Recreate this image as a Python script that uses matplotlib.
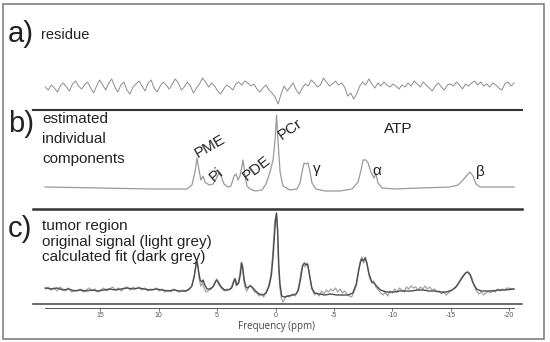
import numpy as np
import matplotlib.pyplot as plt
from matplotlib.patches import Rectangle

plt.rcParams['font.family'] = ['Liberation Sans', 'DejaVu Sans']

W, H = 550, 342

# a) residue, evenly sampled over the spectral width
residue = [1, -2, 3, 0, -4, 2, 5, 1, -3, 4, 7, 2, -1, 3, 6, 0, -5, 2, 8, 3,
           -2, 5, 9, 1, -4, 3, 6, -2, -6, 1, 4, 7, 2, -3, 5, 8, 0, -4, 2, 6,
           3, -1, 4, 9, 5, -2, 1, 6, 2, -5, 0, 4, 10, 6, 1, 5, 2, -3, -6, -1,
           3, 1, -2, 4, 6, 3, 7, 5, 2, 4, -1, -4, 0, 3, -2, -5, -9, -16, -6, 2,
           -3, 1, 5, -2, -6, 0, 4, 2, 8, 5, 1, 3, 10, 6, 2, 4, 7, 3, 5, 1,
           -8, -5, -11, -6, 2, 6, 3, 9, 4, 0, 5, 2, 6, 3, 1, 4, 2, -1, 3, 1,
           5, 2, 7, 4, 1, 6, 3, 0, -3, 2, 5, 1, -2, 3, 4, 2, 6, 3, -1, 4,
           2, 5, 7, 3, 6, 2, 4, 1, 5, 3, 0, -2, 4, 6, 2, 5]
ppm_start, ppm_end = 19.7, -20.4

# b) estimated individual components (ppm, intensity)
components = [
    (19.72, 1), (15.02, 0), (10.74, -1), (7.57, -1), (7.15, 3), (6.89, 16),
    (6.72, 30), (6.55, 18), (6.38, 8), (6.2, 12), (6.03, 6), (5.69, 3),
    (5.35, 4), (5.09, 9), (4.83, 15), (4.66, 12), (4.41, 4), (4.06, 1),
    (3.81, 2), (3.55, 12), (3.38, 14), (3.21, 8), (3.04, 12), (2.87, 22),
    (2.78, 28), (2.61, 12), (2.44, 2), (2.18, -1), (1.75, -3), (1.16, -2),
    (0.81, 4), (0.47, 16), (0.21, 28), (0.04, 48), (-0.09, 73), (-0.21, 48),
    (-0.39, 16), (-0.64, 2), (-1.24, -2), (-1.84, -1), (-2.1, 5), (-2.27, 16),
    (-2.44, 25), (-2.61, 24), (-2.78, 25), (-2.95, 16), (-3.12, 5), (-3.47, -1),
    (-4.24, -3), (-5.52, -3), (-6.55, -1), (-7.06, 6), (-7.32, 18), (-7.49, 28),
    (-7.75, 28), (-7.92, 25), (-8.17, 16), (-8.43, 10), (-8.6, 14), (-8.77, 5),
    (-9.11, 0), (-10.23, -1), (-12.37, 0), (-14.93, 1), (-15.62, 3), (-16.04, 8),
    (-16.47, 14), (-16.64, 16), (-16.9, 12), (-17.16, 4), (-17.5, 1),
    (-18.78, 1), (-20.41, 1)]

# c) calculated fit (dark grey)
fit = [
    (19.7, 2), (19.2, 1), (18.7, 2), (18.2, 0), (17.7, 1), (17.2, -1), (16.7, 0),
    (16.2, -1), (15.7, 0), (15.2, -1), (14.7, 0), (14.2, 1), (13.7, 0), (13.2, 1),
    (12.7, 2), (12.2, 1), (11.7, 2), (11.2, 1), (10.7, 0), (10.2, 1), (9.7, 0),
    (9.2, -1), (8.7, 0), (8.2, -1), (7.8, -1), (7.45, 0), (7.15, 4), (6.95, 14),
    (6.8, 26), (6.7, 28), (6.6, 20), (6.45, 10), (6.3, 8), (6.2, 10), (6.05, 5),
    (5.85, 1), (5.55, 1), (5.3, 4), (5.1, 9), (5.0, 10), (4.85, 7), (4.65, 3),
    (4.35, 0), (4.05, 0), (3.75, 2), (3.55, 9), (3.45, 11), (3.3, 5), (3.15, 7),
    (3.0, 16), (2.9, 27), (2.8, 22), (2.68, 10), (2.52, 3), (2.38, 2), (2.2, 4),
    (2.0, 3), (1.7, -1), (1.4, -4), (1.1, -5), (0.8, -3), (0.55, 4), (0.35, 15),
    (0.2, 35), (0.0, 70), (-0.09, 77), (-0.18, 60), (-0.28, 25), (-0.38, 6),
    (-0.53, -6), (-0.73, -7), (-1.07, -6), (-1.47, -5), (-1.76, -4), (-1.96, 0),
    (-2.16, 12), (-2.31, 24), (-2.46, 27), (-2.6, 25), (-2.75, 26), (-2.9, 16),
    (-3.1, 2), (-3.35, -3), (-3.74, -4), (-4.24, -5), (-4.73, -4), (-5.23, -5),
    (-5.72, -5), (-6.21, -5), (-6.61, -3), (-6.91, 6), (-7.15, 22), (-7.35, 31),
    (-7.5, 29), (-7.65, 32), (-7.8, 28), (-8.0, 16), (-8.25, 8), (-8.44, 7),
    (-8.64, 4), (-8.98, 0), (-9.48, -2), (-10.17, -2), (-10.66, -1), (-11.16, -1),
    (-11.65, -1), (-12.15, 0), (-12.64, 0), (-13.14, -1), (-13.63, -1),
    (-14.13, -2), (-14.62, -2), (-15.12, 0), (-15.51, 4), (-15.9, 11),
    (-16.25, 17), (-16.45, 18), (-16.65, 15), (-16.9, 7), (-17.2, 1), (-17.6, -1),
    (-18.1, -1), (-18.6, -1), (-19.1, 0), (-19.6, 0), (-20.4, 1)]

# c) original signal (light grey)
original = [
    (19.7, 1), (19.45, 3), (19.2, 0), (18.95, 2), (18.7, -1), (18.45, 3), (18.2, 1),
    (17.95, -1), (17.7, 2), (17.45, -2), (17.2, 0), (16.95, -1), (16.7, 1),
    (16.45, -2), (16.2, 0), (15.95, 2), (15.7, -1), (15.45, 1), (15.2, -2),
    (14.95, 0), (14.7, 2), (14.45, -1), (14.2, 1), (13.95, 3), (13.7, 0),
    (13.45, 2), (13.2, -1), (12.95, 2), (12.7, 3), (12.45, 0), (12.2, 3),
    (11.95, 1), (11.7, 3), (11.45, 0), (11.2, 2), (10.95, -1), (10.7, 1),
    (10.45, 0), (10.2, 2), (9.95, -1), (9.7, 1), (9.45, -2), (9.2, 0), (8.95, -2),
    (8.7, 1), (8.45, -1), (8.2, -2), (7.95, 0), (7.7, -2), (7.45, 1),
    (7.2, 3), (6.99, 12), (6.84, 22), (6.74, 30), (6.64, 24), (6.54, 12), (6.4, 4),
    (6.25, 7), (6.1, 2), (5.95, -2), (5.75, -1), (5.55, 2), (5.36, 3), (5.16, 8),
    (5.04, 11), (4.91, 6), (4.76, 4), (4.57, 1), (4.37, -1), (4.17, 1), (3.97, 0),
    (3.77, 3), (3.63, 8), (3.5, 12), (3.38, 4), (3.23, 6), (3.08, 14), (2.93, 28),
    (2.83, 24), (2.71, 9), (2.59, 2), (2.44, -1), (2.29, 3), (2.14, 5), (1.99, 2),
    (1.8, -2), (1.6, -3), (1.4, -6), (1.2, -4), (1.01, -7), (0.81, -2), (0.61, 3),
    (0.41, 14), (0.26, 32), (0.07, 68), (-0.06, 76), (-0.16, 62), (-0.26, 22),
    (-0.38, 2), (-0.5, -8), (-0.63, -12), (-0.78, -9), (-0.97, -6), (-1.22, -7),
    (-1.47, -4), (-1.67, -6), (-1.86, -2), (-2.06, 8), (-2.21, 20), (-2.36, 25),
    (-2.51, 23), (-2.65, 27), (-2.8, 22), (-2.95, 12), (-3.15, 0), (-3.35, -5),
    (-3.54, -3), (-3.74, -6), (-3.94, -1), (-4.14, -4), (-4.34, 0), (-4.53, -2),
    (-4.73, 1), (-4.93, -1), (-5.13, 2), (-5.32, -2), (-5.52, 1), (-5.72, -3),
    (-5.92, -1), (-6.12, -4), (-6.31, -6), (-6.51, -7), (-6.71, -2), (-6.91, 4),
    (-7.1, 18), (-7.25, 29), (-7.4, 33), (-7.55, 27), (-7.7, 33), (-7.85, 24),
    (-8.04, 12), (-8.24, 7), (-8.39, 9), (-8.59, 3), (-8.79, 0),
    (-9.0, -3), (-9.2, -5), (-9.4, -2), (-9.6, -6), (-9.8, -1), (-10.0, -3),
    (-10.2, 1), (-10.4, -2), (-10.6, 2), (-10.8, 0), (-11.0, -2), (-11.2, 3),
    (-11.4, 1), (-11.6, 4), (-11.8, 2), (-12.0, 3), (-12.2, 0), (-12.4, 3),
    (-12.6, 1), (-12.8, 4), (-13.0, 1), (-13.2, 3), (-13.4, 0), (-13.6, 1),
    (-13.8, -2), (-14.0, -1), (-14.2, -4), (-14.4, -2), (-14.6, -5), (-14.8, -3),
    (-15.0, -1), (-15.2, 1), (-15.4, 2), (-15.6, 6), (-15.8, 10), (-16.0, 14),
    (-16.2, 16), (-16.4, 18), (-16.6, 17), (-16.8, 12), (-17.0, 4), (-17.2, -1),
    (-17.4, -4), (-17.6, -2), (-17.8, -5), (-18.0, -3), (-18.2, -1), (-18.4, -3),
    (-18.6, 0), (-18.8, -2), (-19.0, 1), (-19.2, -1), (-19.4, 1), (-19.6, 0),
    (-19.8, 2), (-20.4, 1)]

tick_ppm = [15, 10, 5, 0, -5, -10, -15, -20]
tick_labels = ['15', '10', '5', '0', '-5', '-10', '-15', '-20']


def px_axes(fig, left, top, right, bottom):
    return fig.add_axes([left / W, 1 - bottom / H, (right - left) / W, (bottom - top) / H])


def ftext(fig, x, y, s, **kw):
    kw.setdefault('color', '#222222')
    return fig.text(x / W, 1 - y / H, s, **kw)


fig = plt.figure(figsize=(5.5, 3.42), dpi=100)
fig.patch.set_facecolor('white')
fig.add_artist(Rectangle((3 / W, 3 / H), 541 / W, 335 / H, transform=fig.transFigure,
                         fill=False, edgecolor='#808080', linewidth=1.2))

xlim = (20.75, -21.09)

# panel a
ax_a = px_axes(fig, 33, 62, 522, 110)
ax_a.plot(np.linspace(ppm_start, ppm_end, len(residue)), residue, color='#8c8c8c', lw=0.7)
ax_a.set_xlim(xlim)
ax_a.set_ylim(-22, 26)
ax_a.axis('off')

# panel b
ax_b = px_axes(fig, 33, 110, 522, 209)
bx, by = zip(*components)
ax_b.plot(bx, by, color='#9a9a9a', lw=0.9)
ax_b.set_xlim(xlim)
ax_b.set_ylim(-21, 78)
for s in ['left', 'right', 'bottom']:
    ax_b.spines[s].set_visible(False)
ax_b.spines['top'].set_linewidth(1.5)
ax_b.spines['top'].set_color('#333333')
ax_b.set_xticks([])
ax_b.set_yticks([])
ax_b.patch.set_alpha(0)

for txt, x, y, rot in [('PME', 5.6, 42, 30), ('Pi', 5.09, 13, 40), ('PDE', 1.58, 20, 38),
                       ('PCr', -1.24, 59, 35)]:
    ax_b.text(x, y, txt, rotation=rot, fontsize=11, color='#222222',
              ha='center', va='center', rotation_mode='anchor')
ax_b.text(-10.48, 59, 'ATP', fontsize=11, color='#222222', ha='center', va='center')
for txt, x, y in [('γ', -3.55, 19), ('α', -8.69, 17), ('β', -17.5, 16)]:
    ax_b.text(x, y, txt, fontsize=11, color='#222222', ha='center', va='center')

# panel c
ax_c = px_axes(fig, 33, 209, 522, 304)
ox, oy = zip(*original)
fx, fy = zip(*fit)
ax_c.plot(ox, oy, color='#a3a3a3', lw=0.9)
ax_c.plot(fx, fy, color='#4d4d4d', lw=1.0)
ax_c.set_xlim(xlim)
ax_c.set_ylim(-14, 81)
for s in ['left', 'right']:
    ax_c.spines[s].set_visible(False)
ax_c.spines['top'].set_linewidth(1.8)
ax_c.spines['top'].set_color('#333333')
ax_c.plot([0, 1], [0, 0], transform=ax_c.transAxes, color='#444444', lw=1.1, clip_on=False)
ax_c.spines['bottom'].set_position(('outward', 3))
ax_c.spines['bottom'].set_bounds(19.72, -20.41)
ax_c.spines['bottom'].set_linewidth(0.7)
ax_c.spines['bottom'].set_color('#555555')
ax_c.set_yticks([])
ax_c.set_xticks(tick_ppm)
ax_c.set_xticklabels(tick_labels)
ax_c.tick_params(axis='x', direction='out', length=2, width=0.6, pad=1,
                 labelsize=5, colors='#555555')
ax_c.patch.set_alpha(0)

ftext(fig, 276, 326, 'Frequency (ppm)', fontsize=7, ha='center', va='center',
      color='#444444', family=['Open Sans', 'DejaVu Sans'])

# panel labels
ftext(fig, 8, 34, 'a)', fontsize=21, va='center')
ftext(fig, 41, 35, 'residue', fontsize=10.5, va='center')
ftext(fig, 8, 124, 'b)', fontsize=21, va='center')
ftext(fig, 42, 119, 'estimated', fontsize=11, va='center')
ftext(fig, 42, 139, 'individual', fontsize=11, va='center')
ftext(fig, 42, 159, 'components', fontsize=11, va='center')
ftext(fig, 8, 229, 'c)', fontsize=21, va='center')
ftext(fig, 42, 226, 'tumor region', fontsize=11, va='center')
ftext(fig, 42, 242, 'original signal (light grey)', fontsize=11, va='center')
ftext(fig, 42, 257, 'calculated fit (dark grey)', fontsize=11, va='center')

fig.savefig('out.png', dpi=100, facecolor='white')
